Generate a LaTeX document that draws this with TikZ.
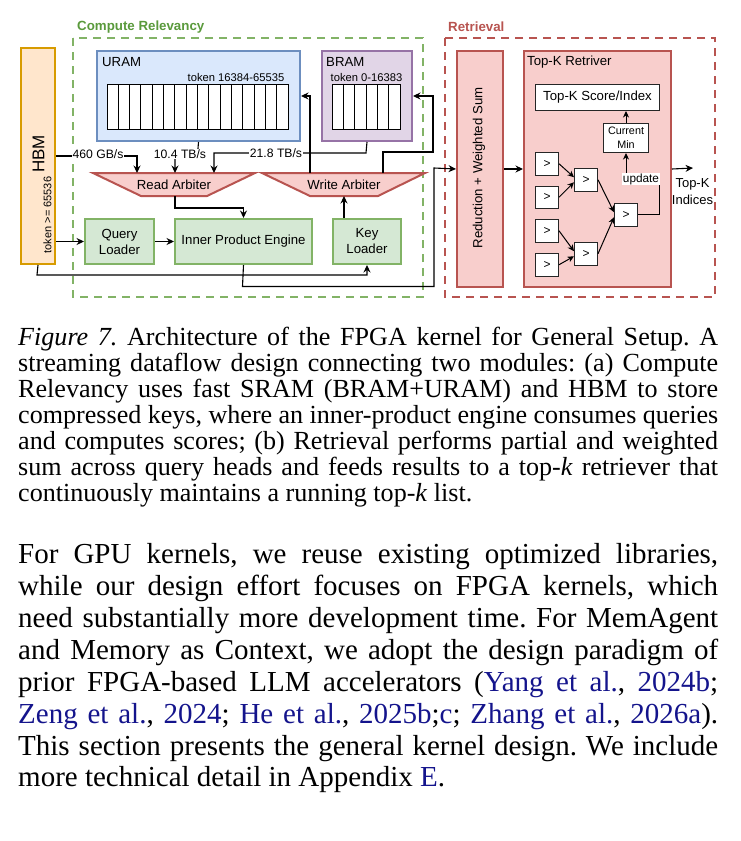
\documentclass[tikz,border=0pt]{standalone}
\usepackage{fontspec}
\setmainfont{Liberation Serif}
\newfontfamily\dsans{Liberation Sans}
\usetikzlibrary{arrows.meta,calc}
\definecolor{hbmfill}{HTML}{FFE6CC}
\definecolor{hbmdraw}{HTML}{D79B00}
\definecolor{urfill}{HTML}{DAE8FC}
\definecolor{urdraw}{HTML}{6C8EBF}
\definecolor{brfill}{HTML}{E1D5E7}
\definecolor{brdraw}{HTML}{9673A6}
\definecolor{gfill}{HTML}{D5E8D4}
\definecolor{gdraw}{HTML}{82B366}
\definecolor{rfill}{HTML}{F8CECC}
\definecolor{rdraw}{HTML}{B85450}
\definecolor{gtext}{HTML}{5A9A3C}
\definecolor{citeblue}{HTML}{14148C}
\newcommand\capf{\rmfamily\frenchspacing\fontsize{26.1}{26}\selectfont}
\newcommand\bodyf{\rmfamily\frenchspacing\fontsize{29}{32}\selectfont}
\newcommand\cb[1]{\textcolor{citeblue}{#1}}
\tikzset{
  blk/.style={draw, line width=2pt, anchor=north west, inner sep=0pt, align=center},
  lnk/.style={line width=1.1pt, -{Stealth[length=7.5pt,width=7pt,inset=2.5pt]}},
  lnks/.style={line width=1pt, -{Stealth[length=6.5pt,width=6pt,inset=2pt]}},
  pl/.style={line width=1.1pt},
  cmp/.style={draw=black!85, fill=white, line width=1pt, anchor=north west, minimum width=23pt, minimum height=22.5pt, inner sep=0pt, font=\dsans\fontsize{12}{14}\selectfont},
  lbl/.style={fill=white, inner sep=0.8pt, font=\dsans\fontsize{12.2}{14}\selectfont},
  capline/.style={anchor=base west, inner sep=0pt, font=\capf},
  bodyline/.style={anchor=base west, inner sep=0pt, font=\bodyf},
}
\begin{document}
\begin{tikzpicture}[x=1pt,y=-1pt, font=\dsans\fontsize{13.2}{16}\selectfont]
\useasboundingbox[fill=white] (0,0) rectangle (740,841);

% ---------- group frames ----------
\draw[gdraw, line width=2pt, dash pattern=on 8pt off 6pt] (73,38) rectangle (423,297);
\draw[rdraw, line width=2pt, dash pattern=on 8pt off 6pt] (445,38) rectangle (715,297);
\node[anchor=west, inner sep=0pt, text=gtext, font=\dsans\bfseries\fontsize{13.3}{15}\selectfont] (crl) at (77,27) {Compute Relevancy};
\node[anchor=west, inner sep=0pt, text=rdraw, font=\dsans\bfseries\fontsize{13.3}{15}\selectfont] (rtl) at (448,27) {Retrieval};

% ---------- HBM ----------
\node[blk, draw=hbmdraw, fill=hbmfill, minimum width=34pt, minimum height=216pt] (hbm) at (20,47) {};
\node[rotate=90, inner sep=0pt, font=\dsans\fontsize{17}{19}\selectfont] (hbmt) at (38.5,154) {HBM};
\node[rotate=90, inner sep=0pt, font=\dsans\fontsize{11}{13}\selectfont] (hbmtok) at (47.5,215) {token >= 65536};

% ---------- URAM ----------
\node[blk, draw=urdraw, fill=urfill, minimum width=203pt, minimum height=90pt] (uram) at (96,50) {};
\node[anchor=west, inner sep=0pt] (uramt) at (102,62) {URAM};
\node[inner sep=0pt, font=\dsans\fontsize{11.2}{13}\selectfont] (uramtok) at (236,77) {token 16384-65535};
\fill[white] (107,84) rectangle (288,129);
\foreach \i in {0,...,15} \draw[line width=1pt] ({107+11.3125*\i},84) rectangle ++(11.3125,45);

% ---------- BRAM ----------
\node[blk, draw=brdraw, fill=brfill, minimum width=90pt, minimum height=90pt] (bram) at (321,50) {};
\node[anchor=west, inner sep=0pt] (bramt) at (326,62) {BRAM};
\node[inner sep=0pt, font=\dsans\fontsize{11.2}{13}\selectfont] (bramtok) at (366.5,77) {token 0-16383};
\fill[white] (332,84) rectangle (400,129);
\foreach \i in {0,...,5} \draw[line width=1pt] ({332+11.333*\i},84) rectangle ++(11.333,45);

% ---------- arbiters ----------
\draw[rdraw, fill=rfill, line width=2pt] (93,173) -- (255,173) -- (207,196) -- (141,196) -- cycle;
\node[inner sep=0pt] (ra) at (174,184.5) {Read Arbiter};
\draw[rdraw, fill=rfill, line width=2pt] (262,173) -- (425,173) -- (378,196) -- (310,196) -- cycle;
\node[inner sep=0pt] (wa) at (344,184.5) {Write Arbiter};
\coordinate (raA) at (137,173);
\coordinate (raB) at (175,173);
\coordinate (raC) at (214,173);
\coordinate (raOut) at (175,196);
\coordinate (waA) at (310,173);
\coordinate (waB) at (383,173);
\coordinate (waIn) at (344,196);

% ---------- loaders / engine ----------
\node[blk, draw=gdraw, fill=gfill, minimum width=69pt, minimum height=45pt] (ql) at (84,218) {Query\\Loader};
\node[blk, draw=gdraw, fill=gfill, minimum width=137pt, minimum height=45pt] (ipe) at (174,218) {Inner Product Engine};
\node[blk, draw=gdraw, fill=gfill, minimum width=68pt, minimum height=45pt] (kl) at (332,218) {Key\\Loader};

% ---------- compute connectors ----------
\draw[lnk] (hbm.east) -| (raA);
\node[lbl] (bw1) at (98,154) {460 GB/s};
\draw[lnk] (uram.south) -- (197.5,155) -| (raB);
\node[lbl] (bw2) at (180,154) {10.4 TB/s};
\draw[lnk] (bram.south) -- (366,153) -| (raC);
\node[lbl] (bw3) at (276,153) {21.8 TB/s};
\draw[lnk] (waA) |- (uram.east);
\draw[lnk] (waB) -- (383,152) -- (433,152) |- (bram.east);
\draw[lnk] (raOut) -- (175,208) -| (ipe.north);
\draw[lnk] (hbm.east |- ql.west) -- (ql.west);
\draw[lnk] (ql.east) -- (ipe.west);
\draw[lnk] (kl.north -| waIn) -- (waIn);
\draw[lnk] (hbm.south) -- (37,275) -| (kl.south);

% ---------- retrieval ----------
\node[blk, draw=rdraw, fill=rfill, minimum width=46pt, minimum height=236pt] (red) at (456,50) {};
\node[rotate=90, inner sep=0pt] (redt) at (479,168) {Reduction + Weighted Sum};
\node[blk, draw=rdraw, fill=rfill, minimum width=147pt, minimum height=236pt] (topk) at (523,50) {};
\node[anchor=west, inner sep=0pt] (topkt) at (527,62) {Top-K Retriver};
\node[blk, draw=black!85, fill=white, line width=1pt, minimum width=124pt, minimum height=26pt] (score) at (535,84) {Top-K Score/Index};
\node[blk, draw=black!85, fill=white, line width=1pt, minimum width=45pt, minimum height=29pt, font=\dsans\fontsize{10.8}{14}\selectfont] (cm) at (603,123) {Current\\Min};

\node[cmp] (c1) at (535,152) {>};
\node[cmp] (c2) at (535,185.5) {>};
\node[cmp] (c3) at (535,219) {>};
\node[cmp] (c4) at (535,253) {>};
\node[cmp] (d1) at (574,168) {>};
\node[cmp] (d2) at (574,242) {>};
\node[cmp] (e1) at (614,203) {>};

\draw[lnk] (ipe.south) -- (242.5,286.5) -| (434,168) -- (red.west);
\draw[lnk] (red.east) -- (topk.west);
\coordinate (tkend) at (693,168);
\draw[lnk] (topk.east) -- (tkend);
\node[inner sep=0pt, align=center, font=\dsans\fontsize{13}{17}\selectfont] (tki) at (692.5,191.5) {Top-K\\Indices};

\draw[lnks] (c1.east) -- ($(d1.west)+(0,-2.5)$);
\draw[lnks] (c2.east) -- ($(d1.west)+(0,2.5)$);
\draw[lnks] (c3.east) -- ($(d2.west)+(0,-2.5)$);
\draw[lnks] (c4.east) -- ($(d2.west)+(0,2.5)$);
\draw[lnks] (d1.east) -- ($(e1.west)+(0,-2.5)$);
\draw[lnks] (d2.east) -- ($(e1.west)+(0,2.5)$);
\draw[lnks] (e1.east) -| (659,179) -| (cm.south);
\node[fill=white, inner sep=0.8pt, font=\dsans\fontsize{11.8}{14}\selectfont] (upd) at (641,179) {update};
\draw[lnks] (cm.north) -- (cm.north |- score.south);

% ---------- caption ----------
\node[capline] (cap1) at (18,345) {\makebox[700pt][s]{\textit{Figure 7.}\ Architecture of the FPGA kernel for General Setup. A}};
\node[capline] (cap2) at (18,371.1) {\makebox[700pt][s]{streaming dataflow design connecting two modules: (a) Compute}};
\node[capline] (cap3) at (18,397.2) {\makebox[700pt][s]{Relevancy uses fast SRAM (BRAM+URAM) and HBM to store}};
\node[capline] (cap4) at (18,423.3) {\makebox[700pt][s]{compressed keys, where an inner-product engine consumes queries}};
\node[capline] (cap5) at (18,449.4) {\makebox[700pt][s]{and computes scores; (b) Retrieval performs partial and weighted}};
\node[capline] (cap6) at (18,475.5) {\makebox[700pt][s]{sum across query heads and feeds results to a top-\textit{k} retriever that}};
\node[capline] (cap7) at (18,501.6) {continuously maintains a running top-\textit{k} list.};

% ---------- body ----------
\node[bodyline] (b1) at (18,563.3) {\makebox[700pt][s]{For GPU kernels, we reuse existing optimized libraries,}};
\node[bodyline] (b2) at (18,595.25) {\makebox[700pt][s]{while our design effort focuses on FPGA kernels, which}};
\node[bodyline] (b3) at (18,627.2) {\makebox[700pt][s]{need substantially more development time. For MemAgent}};
\node[bodyline] (b4) at (18,659.15) {\makebox[700pt][s]{and Memory as Context, we adopt the design paradigm of}};
\node[bodyline] (b5) at (18,691.1) {\makebox[700pt][s]{prior FPGA-based LLM accelerators (\cb{Yang et al.}, \cb{2024b};}};
\node[bodyline] (b6) at (18,723.05) {\makebox[700pt][s]{\cb{Zeng et al.}, \cb{2024}; \cb{He et al.}, \cb{2025b};\cb{c}; \cb{Zhang et al.}, \cb{2026a}).}};
\node[bodyline] (b7) at (18,755) {\makebox[700pt][s]{This section presents the general kernel design. We include}};
\node[bodyline] (b8) at (18,786.95) {more technical detail in Appendix \cb{E}.};
\end{tikzpicture}
\end{document}
